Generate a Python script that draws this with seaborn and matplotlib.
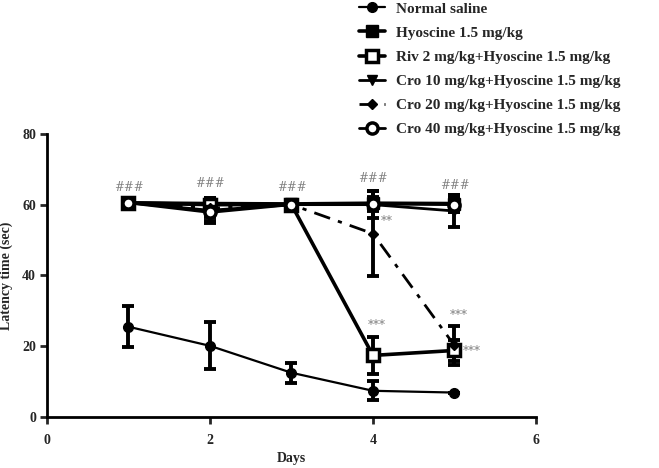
import numpy as np
import pandas as pd
import matplotlib
matplotlib.use("Agg")
import matplotlib.pyplot as plt
import seaborn as sns

# ==========================================
# data (mean +/- SEM)
# ==========================================
days = [1, 2, 3, 4, 5]

saline = [25.5, 20.1, 12.5, 7.4, 6.9]
saline_err = [5.8, 6.6, 2.8, 2.7, 0.0]

hyoscine = [60.5, 60.3, 60.2, 60.4, 60.3]
hyoscine_err = [0.4, 1.2, 0.5, 1.0, 2.5]

riv = [60.5, 60.0, 60.0, 17.4, 18.8]
riv_err = [0.5, 2.0, 0.5, 5.2, 3.0]

cro10 = [60.5, 58.4, 60.0, 60.0, 58.2]
cro10_err = [0.5, 3.5, 0.5, 3.8, 4.5]

cro20 = [60.5, 59.0, 60.0, 51.8, 20.2]
cro20_err = [0.5, 2.5, 0.5, 12.0, 5.6]

cro40 = [60.5, 57.8, 60.0, 60.2, 60.0]
cro40_err = [0.5, 2.5, 0.5, 2.0, 2.0]

labels = ['Normal saline',
          'Hyoscine 1.5 mg/kg',
          'Riv 2 mg/kg+Hyoscine 1.5 mg/kg',
          'Cro 10 mg/kg+Hyoscine 1.5 mg/kg',
          'Cro 20 mg/kg+Hyoscine 1.5 mg/kg',
          'Cro 40 mg/kg+Hyoscine 1.5 mg/kg']

# significance marks: text, day, y
sig_text = ['###', '###', '###', '###', '###', '**', '***', '***', '***']
sig_x = [1, 2, 3, 4, 5, 4.1, 4.05, 5.05, 5.1]
sig_y = [64.7, 66.0, 64.7, 67.3, 65.5, 55.3, 25.8, 28.8, 18.6]
sig_ha = ['center', 'center', 'center', 'center', 'center', 'left', 'center', 'center', 'left']

# ==========================================
# style
# ==========================================
sns.set_style("ticks")
plt.rcParams['font.family'] = ['Liberation Serif', 'DejaVu Serif']
plt.rcParams['font.weight'] = 'bold'

fig = plt.figure(figsize=(6.59, 4.68), dpi=100)
ax = fig.add_axes([0.0713, 0.109, 0.742, 0.605])

series = [
    (saline, saline_err, dict(marker='o', ms=7, mfc='black', lw=1.6, ls='-')),
    (hyoscine, hyoscine_err, dict(marker='s', ms=9, mfc='black', lw=2.6, ls='-')),
    (riv, riv_err, dict(marker='s', ms=9, mfc='white', mew=2.5, lw=2.6, ls='-')),
    (cro10, cro10_err, dict(marker='v', ms=7, mfc='black', lw=2.0, ls='-')),
    (cro20, cro20_err, dict(marker='D', ms=5, mfc='black', lw=2.0, ls=(0, (6, 3, 1.5, 3)))),
    (cro40, cro40_err, dict(marker='o', ms=8, mfc='white', mew=2.5, lw=2.0, ls='-')),
]

handles = []
for (vals, err, kw), lab in zip(series, labels):
    df = pd.DataFrame({'Days': days, 'val': vals})
    ax.errorbar(df['Days'], df['val'], yerr=err, fmt='none', ecolor='black',
                elinewidth=2.8, capsize=4, capthick=2.8, zorder=2)
    sns.lineplot(data=df, x='Days', y='val', ax=ax, color='black',
                 linewidth=kw['lw'], linestyle=kw['ls'], marker=kw['marker'],
                 markersize=kw['ms'], markerfacecolor=kw['mfc'],
                 markeredgecolor='black', markeredgewidth=kw.get('mew', 1.0),
                 zorder=3)
    handles.append(ax.lines[-1])

for t, xx, yy, ha in zip(sig_text, sig_x, sig_y, sig_ha):
    ax.text(xx, yy, t, ha=ha, va='center', color='#808080', fontsize=8.5,
            fontweight='normal', family=['DejaVu Serif'])

ax.set_xlim(0, 6)
ax.set_ylim(0, 80)
ax.set_xticks([0, 2, 4, 6])
ax.set_yticks([0, 20, 40, 60, 80])
ax.set_xlabel('Days', fontsize=10, fontweight='bold')
ax.set_ylabel('Latency time (sec)', fontsize=10, fontweight='bold')
ax.xaxis.set_label_coords(0.5, -0.125)
ax.yaxis.set_label_coords(-0.07, 0.5)
ax.tick_params(axis='both', labelsize=10, width=2, length=5, direction='out')
ax.tick_params(axis='x', pad=7)
ax.tick_params(axis='y', pad=3)
for lbl in ax.get_xticklabels() + ax.get_yticklabels():
    lbl.set_fontweight('bold')
for s in ['left', 'bottom']:
    ax.spines[s].set_linewidth(2)
    ax.spines[s].set_color('black')
sns.despine(ax=ax)

fig.legend(handles, labels, loc='upper left', bbox_to_anchor=(0.524, 1.025),
           frameon=False, handlelength=1.7, labelspacing=0.68,
           handletextpad=0.7, prop={'weight': 'bold', 'size': 11})

fig.savefig('out.png', dpi=100)
